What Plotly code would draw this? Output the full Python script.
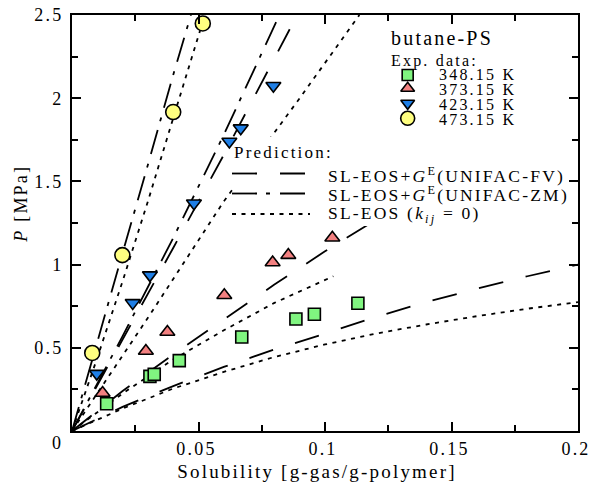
import plotly.graph_objects as go

# ---------------- data ----------------
temp_labels = ["348.15 K", "373.15 K", "423.15 K", "473.15 K"]

x_348 = [0.0137, 0.0308, 0.0325, 0.0424, 0.0671, 0.0885, 0.0958, 0.1130]
y_348 = [0.164, 0.328, 0.340, 0.423, 0.565, 0.673, 0.702, 0.768]
x_373 = [0.0121, 0.0292, 0.0377, 0.0602, 0.0793, 0.0855, 0.1029]
y_373 = [0.228, 0.481, 0.595, 0.816, 1.013, 1.057, 1.161]
x_423 = [0.0098, 0.0240, 0.0308, 0.0482, 0.0622, 0.0667, 0.0796]
y_423 = [0.345, 0.770, 0.937, 1.369, 1.740, 1.820, 2.075]
x_473 = [0.0080, 0.0199, 0.0400, 0.0517]
y_473 = [0.469, 1.057, 1.917, 2.449]

# prediction curves
fv_348_x = [0, 0.02, 0.04, 0.06, 0.08, 0.10, 0.12, 0.14, 0.16, 0.18, 0.20]
fv_348_y = [0, 0.145, 0.27, 0.385, 0.49, 0.585, 0.685, 0.775, 0.855, 0.93, 1.0]
sl_348_x = [0, 0.02, 0.04, 0.06, 0.08, 0.10, 0.12, 0.14, 0.16, 0.18, 0.20]
sl_348_y = [0, 0.135, 0.255, 0.355, 0.445, 0.52, 0.585, 0.64, 0.69, 0.735, 0.775]

fv_373_x = [0, 0.02, 0.04, 0.06, 0.08, 0.10, 0.12, 0.135]
fv_373_y = [0, 0.24, 0.46, 0.67, 0.88, 1.08, 1.27, 1.41]
sl_373_x = [0, 0.02, 0.04, 0.06, 0.08, 0.1033]
sl_373_y = [0, 0.225, 0.43, 0.605, 0.77, 0.93]

zm_423_x = [0, 0.02, 0.04, 0.06, 0.082]
zm_423_y = [0, 0.57, 1.16, 1.78, 2.5]
fv_423_x = [0, 0.02, 0.04, 0.06, 0.08, 0.089]
fv_423_y = [0, 0.55, 1.10, 1.66, 2.24, 2.5]
sl_423_x = [0, 0.03, 0.06, 0.09, 0.1136]
sl_423_y = [0, 0.68, 1.38, 2.0, 2.5]

zm_473_x = [0, 0.01, 0.02, 0.03, 0.04, 0.047]
zm_473_y = [0, 0.54, 1.07, 1.60, 2.14, 2.5]
sl_473_x = [0, 0.01, 0.02, 0.03, 0.04, 0.05, 0.0525]
sl_473_y = [0, 0.44, 0.90, 1.38, 1.88, 2.38, 2.5]

x_ticks = [0.05, 0.1, 0.15, 0.2]
x_ticktext = ["0.05", "0.1", "0.15", "0.2"]
x_minor = [0.025, 0.075, 0.125, 0.175]
y_ticks = [0.5, 1, 1.5, 2, 2.5]
y_ticktext = ["0.5", "1", "1.5", "2", "2.5"]
y_minor = [0.25, 0.75, 1.25, 1.75, 2.25]

# ---------------- styles ----------------
FONT = "Liberation Serif, Times New Roman, serif"
DASH_FV = "25px,23px"
DASH_ZM = "25px,9px,4px,10px"
DASH_SL = "4px,5.5px"
LW = 1.8
colors = ["#80f580", "#f28080", "#1f7fe6", "#ffff80"]
symbols = ["square", "triangle-up", "triangle-down", "circle"]
sizes = [12, 13, 13, 15]

fig = go.Figure()

def add_line(xs, ys, dash):
    fig.add_trace(go.Scatter(x=xs, y=ys, mode="lines", showlegend=False,
                             line=dict(color="black", width=LW, dash=dash),
                             hoverinfo="skip"))

add_line(fv_348_x, fv_348_y, DASH_FV)
add_line(sl_348_x, sl_348_y, DASH_SL)
add_line(fv_373_x, fv_373_y, DASH_FV)
add_line(sl_373_x, sl_373_y, DASH_SL)
add_line(zm_423_x, zm_423_y, DASH_ZM)
add_line(fv_423_x, fv_423_y, DASH_FV)
add_line(sl_423_x, sl_423_y, DASH_SL)
add_line(zm_473_x, zm_473_y, DASH_ZM)
add_line(sl_473_x, sl_473_y, DASH_SL)

# white background of prediction legend block (covers lines, below markers)
box_x = [0.0636, 0.1953, 0.1953, 0.0636, 0.0636]
box_y = [1.232, 1.232, 1.768, 1.768, 1.232]
fig.add_trace(go.Scatter(x=box_x, y=box_y, mode="lines", fill="toself",
                         fillcolor="white", line=dict(width=0, color="white"),
                         showlegend=False, hoverinfo="skip"))

# experimental points on overlay axes (drawn above)
for xs, ys, c, s, sz, name in zip([x_348, x_373, x_423, x_473],
                                  [y_348, y_373, y_423, y_473],
                                  colors, symbols, sizes, temp_labels):
    fig.add_trace(go.Scatter(x=xs, y=ys, mode="markers", name=name,
                             xaxis="x2", yaxis="y2", showlegend=False,
                             marker=dict(symbol=s, size=sz, color=c,
                                         line=dict(color="black", width=1.6))))

# legend key markers on a [0,1] legend canvas
leg_mx = [0.6634] * 4
leg_my = [0.8558, 0.8238, 0.7877, 0.7517]
for i in range(4):
    fig.add_trace(go.Scatter(x=[leg_mx[i]], y=[leg_my[i]], mode="markers",
                             xaxis="x3", yaxis="y3", showlegend=False,
                             hoverinfo="skip",
                             marker=dict(symbol=symbols[i], size=sizes[i] - 1,
                                         color=colors[i],
                                         line=dict(color="black", width=1.6))))

W, H = 591, 488
ML, MR, MT, MB = 72, 13, 15, 57
PW, PH = W - ML - MR, H - MT - MB

def px(xp):
    return (xp - ML) / PW

def py(yp):
    return (H - MB - yp) / PH

axis_common = dict(showgrid=False, zeroline=False, showline=True, linewidth=2,
                   linecolor="black", mirror="ticks", ticks="inside",
                   ticklen=9, tickwidth=2, tickcolor="black", automargin=False,
                   tickfont=dict(family=FONT, size=18, color="black"))
minor_common = dict(tickmode="array", ticks="inside", ticklen=6, tickwidth=2,
                    tickcolor="black", showgrid=False)

hidden = dict(visible=False, automargin=False, showgrid=False, zeroline=False)

fig.update_layout(
    template="none",
    width=W, height=H,
    margin=dict(l=ML, r=MR, t=MT, b=MB, autoexpand=False),
    paper_bgcolor="white", plot_bgcolor="white",
    showlegend=False,
    font=dict(family=FONT, color="black"),
    xaxis=dict(range=[0, 0.2], tickmode="array", tickvals=x_ticks,
               ticktext=x_ticktext, ticklabelshift=-2,
               minor=dict(tickvals=x_minor, **minor_common),
               **axis_common),
    yaxis=dict(range=[0, 2.5], tickmode="array", tickvals=y_ticks,
               ticktext=y_ticktext, ticklabelstandoff=3,
               minor=dict(tickvals=y_minor, **minor_common),
               **axis_common),
    xaxis2=dict(overlaying="x", range=[0, 0.2], anchor="y2", **hidden),
    yaxis2=dict(overlaying="y", range=[0, 2.5], anchor="x2", **hidden),
    xaxis3=dict(overlaying="x", range=[0, 1], anchor="y3", **hidden),
    yaxis3=dict(overlaying="y", range=[0, 1], anchor="x3", **hidden),
)

ann = []
def text(t, xp, yp, size, anchor="left"):
    ann.append(dict(text=t, x=px(xp), y=py(yp), xref="paper", yref="paper",
                    xanchor=anchor, yanchor="middle", align=anchor,
                    showarrow=False,
                    font=dict(family=FONT, size=size, color="black")))

text("0", 57, 443, 18, "center")
text("butane-PS", 389, 38, 20)
text("Exp. data:", 389, 61, 16)
for lbl, yy in zip(temp_labels, [74.5, 89, 104, 119]):
    text(lbl, 437, yy, 16)
text("Prediction:", 232, 152, 17)
text("SL-EOS+<i>G</i><sup>E</sup>(UNIFAC-FV)", 326, 175, 17.5)
text("SL-EOS+<i>G</i><sup>E</sup>(UNIFAC-ZM)", 326, 194, 17.5)
text("SL-EOS (<i>k</i><sub><i>ij</i></sub> = 0)", 326, 214, 17.5)
text("Solubility [g-gas/g-polymer]", 317, 471, 19, "center")
ann.append(dict(text="<i>P</i> [MPa]", x=px(21), y=py(204), xref="paper",
                yref="paper", xanchor="center", yanchor="middle",
                showarrow=False, textangle=-90,
                font=dict(family=FONT, size=18, color="black")))
fig.update_layout(annotations=ann)

shapes = []
for yy, dash in zip([173.5, 193.5, 214], [DASH_FV, DASH_ZM, DASH_SL]):
    shapes.append(dict(type="line", xref="paper", yref="paper",
                       x0=px(232), x1=px(310), y0=py(yy), y1=py(yy),
                       line=dict(color="black", width=LW, dash=dash),
                       layer="above"))
fig.update_layout(shapes=shapes)

post = """
document.body.style.margin = '0';
document.documentElement.style.overflow = 'hidden';
document.body.style.overflow = 'hidden';
var gd = document.getElementById('{plot_id}');
function spaceText() {
  gd.querySelectorAll('text').forEach(function (t) {
    if (!t.textContent || !t.textContent.trim()) { t.remove(); return; }
    t.style.letterSpacing = '2.2px';
  });
}
spaceText();
gd.on('plotly_afterplot', spaceText);
"""

fig.write_html("out.html", post_script=post,
               config={"displayModeBar": False, "staticPlot": True})
